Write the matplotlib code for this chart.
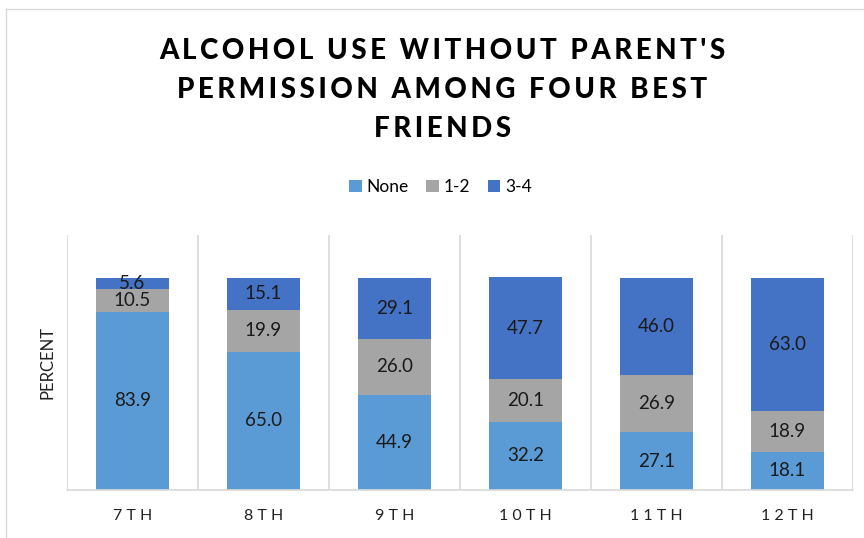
import numpy as np
import matplotlib.pyplot as plt
from matplotlib.lines import Line2D

GRADES = ['7TH', '8TH', '9TH', '10TH', '11TH', '12TH']
NONE = [83.9, 65.0, 44.9, 32.2, 27.1, 18.1]
ONE_TWO = [10.5, 19.9, 26.0, 20.1, 26.9, 18.9]
THREE_FOUR = [5.6, 15.1, 29.1, 47.7, 46.0, 63.0]

SERIES = [('None', NONE, '#5B9BD5'), ('1-2', ONE_TWO, '#A5A5A5'), ('3-4', THREE_FOUR, '#4472C4')]
TITLE = "ALCOHOL USE WITHOUT PARENT'S\nPERMISSION AMONG FOUR BEST\nFRIENDS"

FONT = ['Lato', 'DejaVu Sans']
plt.rcParams['font.family'] = FONT


def spaced(s, sep='\u2009'):
    return '\n'.join(sep.join(line) for line in s.split('\n'))


fig = plt.figure(figsize=(8.64, 5.38), dpi=100)
ax = fig.add_axes([67 / 864, 1 - 490 / 538, 786 / 864, 255 / 538])

x = np.arange(len(GRADES))
bottom = np.zeros(len(GRADES))
for name, vals, color in SERIES:
    vals = np.array(vals)
    ax.bar(x, vals, bottom=bottom, width=0.56, color=color, label=name)
    for xi, b, v in zip(x, bottom, vals):
        ax.text(xi, b + v / 2, f"{v:.1f}", ha='center', va='center', fontsize=13.5, color='#1a1a1a')
    bottom += vals

ax.set_xlim(-0.5, len(GRADES) - 0.5)
ax.set_ylim(0, 120)
ax.set_yticks([])
ax.set_xticks(x)
ax.set_xticklabels([' '.join(g) for g in GRADES], fontsize=11.5, color='#222222')
ax.tick_params(axis='x', length=0, pad=14)
ax.set_xticks(np.arange(-0.5, len(GRADES)), minor=True)
ax.tick_params(axis='x', which='minor', length=0)
ax.grid(True, axis='x', which='minor', color='#D9D9D9', linewidth=1.2)
ax.set_axisbelow(True)
for s in ['top', 'right', 'left']:
    ax.spines[s].set_visible(False)
ax.spines['bottom'].set_color('#D9D9D9')
ax.spines['bottom'].set_linewidth(1.2)
ax.set_ylabel('PERCENT', fontsize=12, color='#222222', labelpad=8)

fig.text(0.512, 1 - 90 / 538, spaced(TITLE), ha='center', va='center', fontsize=20,
         fontweight='black', linespacing=1.62, color='black')

fig.legend(loc='center', bbox_to_anchor=(0.51, 1 - 187 / 538), ncol=3, frameon=False,
           fontsize=12.5, handlelength=0.7, handleheight=0.7, handletextpad=0.3, columnspacing=1.0)

# chart border
fig.add_artist(Line2D([6 / 864, 6 / 864], [0, 1 - 9 / 538], transform=fig.transFigure, color='#D9D9D9', lw=1))
fig.add_artist(Line2D([6 / 864, 1], [1 - 9 / 538, 1 - 9 / 538], transform=fig.transFigure, color='#D9D9D9', lw=1))

fig.savefig('out.png', dpi=100)
